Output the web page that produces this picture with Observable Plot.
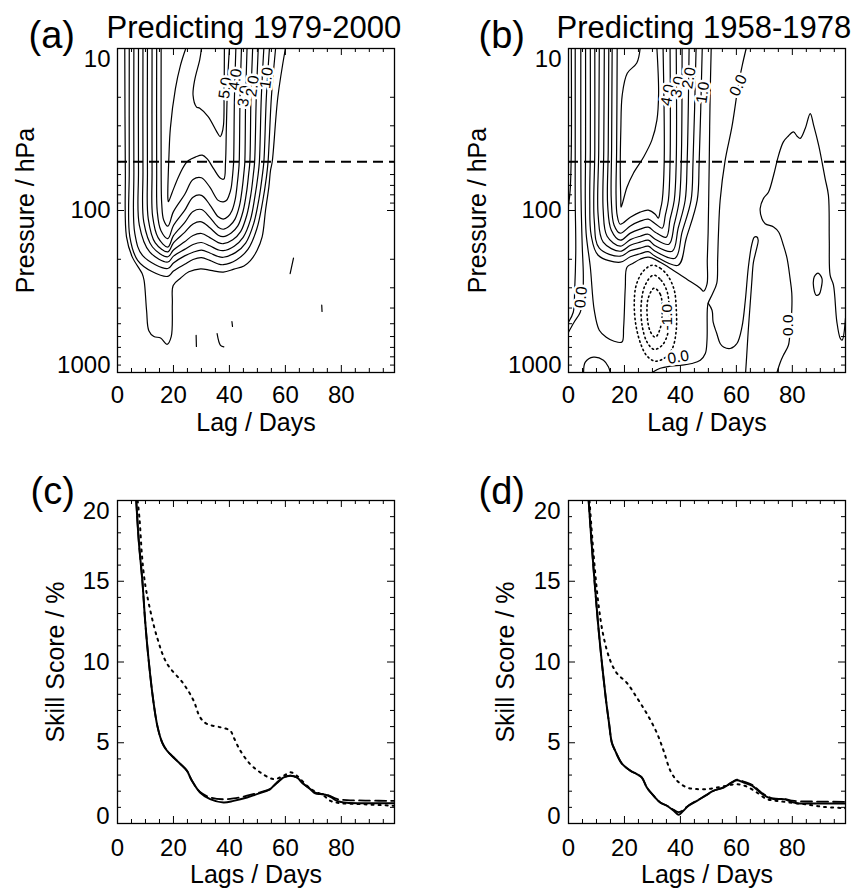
<!DOCTYPE html>
<html>
<head>
<meta charset="utf-8">
<script src="https://cdn.jsdelivr.net/npm/d3@7"></script>
<script src="https://cdn.jsdelivr.net/npm/@observablehq/plot@0.6"></script>
<style>
  body { margin: 0; background: #fff; }
  #fig { position: relative; width: 861px; height: 891px; overflow: hidden; background: #fff; }
  #fig svg { position: absolute; }
</style>
</head>
<body>
<div id="fig"></div>
<script>
// ---------- axis ticks ----------
const lagTicks = [0, 20, 40, 60, 80];
const lagMinorTicks = [5, 10, 15, 25, 30, 35, 45, 50, 55, 65, 70, 75, 85, 90, 95];
const pressureTicks = [10, 100, 1000];
const pressureMinorTicks = [20, 30, 40, 50, 60, 70, 80, 90, 200, 300, 400, 500, 600, 700, 800, 900];
const skillTicks = [0, 5, 10, 15, 20];
const skillMinorTicks = [1, 2, 3, 4, 6, 7, 8, 9, 11, 12, 13, 14, 16, 17, 18, 19];
const refPressure = [50];

// ---------- (a) contour lines, [lag (days), pressure (hPa)] ----------
const a50 = [[30,10],[29.4,11.7],[27.6,15.6],[27,19.4],[28.2,22.9],[29.4,23.4],[32.4,26.3],[35.5,32.7],[36.7,35],[37.3,33.5],[37.9,29.5],[38.1,20],[38.2,10]];
const a45 = [[24.4,10],[22.5,12.7],[20.7,17.7],[18.9,31],[18.4,45.5],[18,84],[18.2,88.3],[19.5,77.6],[21.9,61.4],[24.3,51.4],[25.5,49],[27.8,46.8],[30.3,45.5],[32,47.9],[34.4,55.4],[36.8,63.3],[38,64],[38.6,50.5],[38.9,31.2],[39.4,15.3],[40,10]];
const a40 = [[15.6,10],[15.6,56],[15.8,90.6],[16.5,114.5],[18,125],[20,101.6],[24,79.7],[27,64.4],[30,62.8],[33,71.8],[36,86.6],[37.8,88.4],[38.9,86.8],[39.8,81.2],[40.6,72.8],[41.06,62.6],[41.35,54.8],[41.5,50.3],[41.8,20],[42.3,10]];
const a35 = [[14,10],[14,56],[14.2,101],[15.5,133],[18,149],[20,123.8],[24,99.9],[27,82.8],[30,80.6],[33,92.2],[36,109.4],[37.8,113],[39.5,109],[40.9,100.3],[42.1,84.8],[42.8,68.6],[43.3,56.5],[43.5,50.3],[43.8,20],[44.3,10]];
const a30 = [[12.35,10],[12.35,56],[12.55,108.4],[14.5,147],[18,168],[20,143],[24,118.8],[27,101.4],[30,98.6],[33,110.3],[36,126.8],[37.8,130.5],[40.1,124.3],[42,113],[43.6,93.4],[44.6,72.5],[45.2,58],[45.5,50.3],[45.8,20],[46.3,10]];
const a25 = [[10.7,10],[10.7,56],[11,113],[13.5,158.5],[18,180],[20,158.4],[24,136.5],[27,121],[30,117.4],[33,127.9],[36,142],[37.8,145],[40.65,137.5],[43,124.5],[44.9,100.7],[46.2,75.3],[46.9,59],[47.3,50.3],[47.7,20],[48.3,10]];
const a20 = [[9.1,10],[9.1,56],[9.4,118],[12.5,168],[18,193],[20,175.3],[24,156],[27,142.7],[30,138.7],[33,147],[36,158],[37.8,160.3],[41.2,151.5],[44,135],[46.2,107],[47.7,78.8],[48.55,59.9],[49,50.3],[49.6,20],[50.3,10]];
const a15 = [[7.5,10],[7.5,56],[7.8,123],[11.5,180],[18,208],[20,191.3],[24,173.8],[27,162.2],[30,157.6],[33,165.2],[36,175],[37.8,177],[41.7,166],[44.9,146.5],[47.5,114.3],[49.15,81.3],[50.2,61],[50.7,50.3],[51.4,20],[52.3,10]];
const a10 = [[5.85,10],[5.85,56],[6.2,139],[9,190],[18,228],[20,211],[24,190.6],[27,181],[30,175.8],[33,183],[36,192.4],[37.8,194.3],[42.15,182],[45.8,158.8],[48.7,120],[50.6,84],[51.7,61.8],[52.3,50.3],[53.2,20],[54.3,10]];
const a05 = [[4.2,10],[4.2,56],[4.4,145],[7.2,203],[12.5,239],[18,255],[20,236.6],[24,214.8],[27,200.7],[30,195.3],[33,203.3],[36,213.9],[37.8,216],[42.6,201.2],[46.6,173.8],[49.8,129.7],[51.9,87.7],[53.2,62.7],[53.8,50.3],[55,20],[56.5,10]];
const a00 = [[2.6,10],[2.8,56.4],[3.2,145],[5.3,194],[8.8,245],[9.5,270],[10.4,416],[11.2,552],[13,600],[15.4,612],[17.7,670],[19.2,600],[19.6,375],[19.9,290],[22.5,262],[25.5,239],[29.7,229],[33.3,234],[37.8,240],[41.6,230],[45.2,220],[47.5,204],[49.9,176],[51.7,145.5],[52.9,100],[54.1,71.5],[54.7,56.4],[55.3,50],[57.3,20],[60,10]];
const aBit1 = [[61.7,245],[62.9,197]];
const aBit2 = [[73,384],[73.1,420]];
const aBit3 = [[40.9,485],[41.1,520]];
const aBit4 = [[28.1,590],[28.2,690]];
const aBit5 = [[35.6,575],[36.8,679],[38,695]];
const aLabels = [
  {text: "5.0", lag: 38.5, p: 17.5},
  {text: "4.0", lag: 42.1, p: 15.5},
  {text: "3.0", lag: 45.3, p: 19.7},
  {text: "2.0", lag: 48.3, p: 17.1},
  {text: "1.0", lag: 53.3, p: 15.2}
];
const aLabelAngles = [-82, -82, -82, -82, -82];

// ---------- (b) contour lines ----------
const bInner = [[25.6,10],[24.4,12.3],[21,14.2],[19.2,19.4],[18.7,31.9],[18.5,56.4],[18.7,86.4],[18.8,95.4],[20.9,71.8],[23.2,58.9],[26.8,46.9],[29.8,36.8],[31.6,27.7],[32.2,18.9],[31.6,10]];
const bU1 = [[17.4,10],[17.2,42.4],[17,80.6],[17.4,107.2],[18.5,121.5],[22.1,110],[25.6,102.4],[28.5,99.6],[31,105.4],[32.1,111.5],[32.8,99.6],[33.5,86.4],[34.2,50.3],[33.8,10]];
const bU2 = [[15.6,10],[15.4,42.4],[15.3,86.4],[16.3,123.3],[18.5,138.1],[22.1,124.5],[25.6,116.4],[28.5,113.1],[31,120.6],[33.5,128.6],[34.6,107.2],[35.7,86.4],[36.3,50.3],[36.3,10]];
const bU3 = [[14.4,10],[14.2,42.4],[14,93],[15.3,132.3],[18.5,152.5],[22.1,137.9],[25.6,130.4],[28.5,126.8],[31,136.1],[34.9,146.2],[36.3,113.1],[37.8,86.4],[38.5,50.3],[38.5,10]];
const bU4 = [[12.8,10],[12.6,42.4],[12.4,99.6],[13.8,144.1],[18.5,166.1],[22.1,151.3],[25.6,144.1],[28.5,140.1],[31,150.4],[35.9,161.5],[37.8,121.5],[39.6,86.4],[40.3,50.3],[40.6,10]];
const bU5 = [[11,10],[10.8,42.4],[10.6,107.2],[12.4,156.9],[18.5,178.4],[22.1,163.8],[25.6,156.9],[28.5,152.5],[31,165],[37.1,178.4],[39.2,128.6],[41.7,86.4],[42.4,50.3],[43.1,10]];
const bU6 = [[9.4,10],[9.4,42.4],[9.2,114.8],[11,170.9],[18.5,191.5],[22.1,177],[25.6,170.9],[28.5,166.1],[31,178.4],[38.1,197],[40.6,136.1],[43.8,86.4],[44.5,50.3],[45.6,10]];
const bU7 = [[7.8,10],[7.8,42.4],[7.6,86.4],[8.1,142.1],[10.6,188.8],[18.5,208.5],[22.1,193],[25.6,185],[28.5,179.6],[31,191.5],[39.2,217.6],[42.1,148.3],[46,86.4],[46.7,50.3],[47.8,10]];
const bU8 = [[6.1,10],[6.1,42.4],[6,86.4],[6.3,138.1],[7.8,223.9],[9.2,412.6],[11,548.2],[13.5,605.6],[16.3,641],[19.1,648],[19.7,527],[20.3,297.5],[20.9,223.9],[23.1,211.5],[25.6,199.8],[28.5,194.2],[32.8,208.5],[37.4,233.6],[42.3,265.5],[47.1,301.8],[48.2,315],[49.5,285],[49.6,202.7],[49.9,138.1],[50.1,86.4],[50.3,50.3],[50.6,20.8],[51,10]];
const bEdge1 = [[1,10],[1,42.4],[0.6,74.9],[0,93]];
const bEdge2 = [[2.4,10],[2.4,42.4],[2.4,86.4],[2.6,175.8],[2.2,310.5],[1.7,424.6],[0,489.3]];
const bEdge3 = [[4.4,10],[4.4,42.4],[4.5,86.4],[4.9,163.8],[5.3,250.8],[5.1,342.9],[4.2,424.6],[2,489.3],[0,564]];
const bZero = [[63.5,10],[62.1,12.7],[60.8,16.4],[58.4,30.5],[56,48.9],[54.2,86.4],[53.6,138.1],[53.3,202.7],[53,281],[51.4,328.7],[49.9,373.5],[49.6,412.6],[49.5,631.8],[48.9,763.3],[47.1,839.6],[44.1,880],[40.6,901.6],[36.3,914.5],[32.8,941],[29.9,1000]];
const bThin = [[49.9,373.5],[51.3,412.6],[51.7,489.3],[53,574.6],[54.2,662.3],[55.4,695.3],[57.8,711.3],[60.2,662.3],[62,523],[63.2,357.9],[64.3,222.3],[65.5,162.6],[66.4,146.2],[67.3,145.5],[67.8,152.5],[67.1,175.8],[66.1,208.5],[65.5,277],[64.9,384.3],[64.2,564],[63.7,782],[63.3,1000]];
const bRight = [[74.5,1000],[75.7,863.7],[76.8,782],[78.6,678.6],[79.2,548.2],[79.8,412.6],[79.8,323],[79.2,263.6],[78.1,196.8],[76.8,163.8],[75.1,135.8],[73.3,126.4],[70.3,120.6],[69.1,111.9],[68.5,97.2],[69.7,84.2],[71.5,76.8],[73.3,60.6],[75.1,45.5],[76.8,37.7],[78.5,34.8],[80.4,32.7],[81.7,34.8],[82.8,35.9],[84.6,31.2],[86.4,25.2],[87.6,29.7],[89.4,39.5],[90.6,50.1],[91.7,63.4],[92.9,80.6],[93.2,152.5],[93.5,250.8],[94.7,289],[95.9,485],[97.1,614.3],[97.8,631.8],[99,462]];
const bFoot = [[5.4,1000],[6,863.7],[8.9,804.5],[12.5,839.6],[14.3,923.6],[14.9,1000]];
const bLoop = [[88.2,250.8],[89.2,243.8],[90.6,263.6],[90.3,301.8],[89.6,328.7],[88.5,333.4],[87.6,297.5],[87.6,265.5]];
const bNeg1 = [[29.9,217.6],[32.8,227.1],[35.6,254.4],[37.8,310.5],[38.5,401],[38.5,548],[37.1,711],[34.2,816],[31,851.5],[28.1,793],[26,678.6],[24.2,523],[23.5,384.3],[24.2,289],[26.7,237]];
const bNeg2 = [[30.3,250.8],[33.1,269.3],[35.3,319],[36,412.6],[35.6,564],[33.5,678.6],[30.6,720],[28.1,650.2],[26.3,510.5],[26,373.5],[27.4,289]];
const bNeg3 = [[30.6,301.8],[32.8,328.7],[33.5,412.6],[32.8,532.8],[31,605.6],[29.2,556],[28.1,443.1],[28.5,347.8]];
const bLabels = [
  {text: "4.0", lag: 35.5, p: 19.4},
  {text: "3.0", lag: 39, p: 17.3},
  {text: "2.0", lag: 43.1, p: 15.2},
  {text: "1.0", lag: 48, p: 18.7},
  {text: "0.0", lag: 60.7, p: 16.9},
  {text: "0.0", lag: 4.5, p: 343},
  {text: "-1.0", lag: 35.2, p: 456},
  {text: "0.0", lag: 39.2, p: 805},
  {text: "0.0", lag: 78.6, p: 511}
];
const bLabelAngles = [-80, -80, -80, -82, -65, -85, -90, -10, -90];

// ---------- (c) and (d) skill scores, [lag (days), skill (%)] ----------
const cSolid = [[6.7,20],[7.6,17.5],[8.9,15],[9.9,12.5],[11.2,10],[12.8,7.6],[14.3,6],[16,5],[17.5,4.55],[18.8,4.3],[22.4,3.7],[24.8,3.27],[26.6,2.65],[29.5,1.92],[33.1,1.51],[37.9,1.3],[41.5,1.4],[46.3,1.61],[49.8,1.82],[53.4,2.03],[54.6,2.13],[57,2.54],[59.4,2.85],[61.8,2.96],[64.1,2.85],[66.5,2.44],[68.9,2.13],[70.7,1.86],[72.5,1.82],[74.3,1.78],[76.1,1.65],[78.4,1.4],[82,1.28],[89.2,1.26],[98.9,1.26]];
const cDashed = [[6.7,20],[7.6,17.5],[8.9,15],[9.9,12.5],[11.2,10],[12.8,7.6],[14.3,6],[16,5],[17.5,4.55],[18.8,4.3],[22.4,3.7],[24.8,3.27],[26.6,2.65],[29.5,1.95],[33.1,1.62],[37.9,1.5],[41.5,1.55],[46.3,1.72],[49.8,1.88],[53.4,2.05],[54.6,2.15],[57,2.5],[59.4,2.85],[61.8,2.96],[64.1,2.85],[66.5,2.45],[68.9,2.15],[70.7,1.92],[72.5,1.85],[74.3,1.8],[76.1,1.7],[78.4,1.52],[82,1.45],[89.2,1.42],[98.9,1.4]];
const cDotted = [[7.2,20],[7.9,18.8],[8.7,16.7],[9.5,15.3],[10.5,14.2],[14.1,11.55],[17.7,9.9],[23.6,8.65],[27.2,7.61],[29.5,6.58],[31.9,6.17],[36.7,5.96],[40.3,5.75],[41.5,5.34],[43.9,4.51],[47.4,3.68],[51,3.17],[55.8,2.75],[59.4,2.96],[61.8,3.17],[64.1,2.96],[67.7,2.34],[70.1,2.03],[73.7,1.72],[76.1,1.4],[79.6,1.26],[86.8,1.2],[98.9,1.1]];
const dSolid = [[7.2,20],[8.2,17.5],[9.3,15],[10.5,12.5],[11.9,10],[13.3,7.8],[14.5,6.2],[15.5,5],[16.7,4.5],[19.1,3.7],[22.1,3.27],[24.4,3.06],[26.2,2.85],[28,2.23],[30.4,1.72],[32.8,1.3],[35.2,1.1],[37.6,0.79],[39.4,0.54],[40.5,0.69],[42.9,1.1],[45.9,1.4],[48.9,1.72],[51.9,2.03],[55.4,2.23],[58.4,2.54],[60.2,2.68],[62.6,2.54],[65.6,2.34],[68.5,1.92],[70.9,1.65],[73.3,1.51],[76.9,1.51],[79.8,1.34],[81.6,1.26],[87.6,1.24],[98.9,1.24]];
const dDashed = [[7.2,20],[8.2,17.5],[9.3,15],[10.5,12.5],[11.9,10],[13.3,7.8],[14.5,6.2],[15.5,5],[16.7,4.5],[19.1,3.7],[22.1,3.27],[24.4,3.06],[26.2,2.85],[28,2.23],[30.4,1.72],[32.8,1.3],[35.2,1.1],[37.6,0.85],[39.4,0.7],[40.5,0.78],[42.9,1.12],[45.9,1.42],[48.9,1.72],[51.9,2.03],[55.4,2.23],[58.4,2.55],[60.2,2.72],[62.6,2.6],[65.6,2.4],[68.5,1.98],[70.9,1.7],[73.3,1.55],[76.9,1.52],[79.8,1.42],[81.6,1.38],[87.6,1.36],[98.9,1.34]];
const dDotted = [[7.5,20],[8.95,16.7],[10.7,13.6],[12.5,11.6],[14.9,10.1],[17.3,9.3],[20.9,8.7],[24.4,7.8],[28,6.8],[31.6,5.6],[34,4.5],[36.4,3.27],[38.8,2.65],[42.3,2.23],[45.9,2.13],[49.5,2.13],[53.1,2.23],[56.6,2.34],[60.2,2.44],[63.8,2.28],[67.3,1.92],[70.9,1.51],[74.5,1.4],[79.2,1.3],[84,1.2],[91.2,1.03],[98.9,0.95]];

// ---------- drawing ----------
const FONT = '"Liberation Sans", Arial, Helvetica, sans-serif';
const fig = document.getElementById("fig");

const rowsOf = (lines) => lines.flatMap(([id, pts]) => pts.map(([lag, p]) => ({id, lag, p})));

function frameAxes(W, H, yMajor, yMinor) {
  const s = {stroke: "black", strokeWidth: 1};
  return [
    Plot.tickX(lagTicks, {...s, x: d => d, insetTop: H - 7}),
    Plot.tickX(lagTicks, {...s, x: d => d, insetBottom: H - 7}),
    Plot.tickX(lagMinorTicks, {...s, x: d => d, insetTop: H - 4}),
    Plot.tickX(lagMinorTicks, {...s, x: d => d, insetBottom: H - 4}),
    Plot.tickY(yMajor, {...s, y: d => d, insetRight: W - 7}),
    Plot.tickY(yMajor, {...s, y: d => d, insetLeft: W - 7}),
    Plot.tickY(yMinor, {...s, y: d => d, insetRight: W - 4}),
    Plot.tickY(yMinor, {...s, y: d => d, insetLeft: W - 4}),
    Plot.frame({stroke: "black", strokeWidth: 1.3})
  ];
}

function tickText(yValues, topVal, bottomVal, yDx, xDy) {
  const base = {y: d => d, text: d => String(d), frameAnchor: "left", dx: yDx, textAnchor: "end", fontSize: 24, fill: "black"};
  return [
    Plot.text(yValues.filter(v => v !== topVal && v !== bottomVal), base),
    Plot.text([topVal], {...base, lineAnchor: "top", dy: 1.5}),
    Plot.text([bottomVal], {...base, lineAnchor: "bottom", dy: 0}),
    Plot.text(lagTicks, {x: d => d, text: d => String(d), frameAnchor: "bottom", textAnchor: "middle", lineAnchor: "bottom", dy: xDy, fontSize: 24, fill: "black"})
  ];
}

function titles({letter, title, letterDx, letterDy, titleDx, xTitle, xTitleDy, yTitle, yTitleDx}) {
  const t = {text: d => d, fill: "black", lineAnchor: "bottom"};
  const out = [
    Plot.text([letter], {...t, frameAnchor: "top-left", textAnchor: "start", dx: letterDx, dy: letterDy, fontSize: 38}),
    Plot.text([xTitle], {...t, frameAnchor: "bottom", textAnchor: "middle", dy: xTitleDy, fontSize: 25}),
    Plot.text([yTitle], {...t, frameAnchor: "left", textAnchor: "middle", rotate: -90, dx: yTitleDx, fontSize: 25})
  ];
  if (title) out.push(Plot.text([title], {...t, frameAnchor: "top-left", textAnchor: "start", dx: titleDx, dy: -11, fontSize: 31}));
  return out;
}

function contourPanel(o) {
  const width = o.width, height = 445, mt = 48, mb = 73;
  const W = width - o.ml - o.mr, H = height - mt - mb;
  const lineStyle = {x: "lag", y: "p", z: "id", stroke: "black", strokeWidth: 1.2, clip: true};
  return Plot.plot({
    width, height, marginLeft: o.ml, marginRight: o.mr, marginTop: mt, marginBottom: mb,
    x: {domain: [0, 99], axis: null},
    y: {type: "log", domain: [10, 1000], reverse: true, axis: null},
    style: {fontFamily: FONT, background: "transparent", overflow: "visible"},
    marks: [
      Plot.line(rowsOf(o.lines), {...lineStyle, curve: "catmull-rom"}),
      Plot.line(rowsOf(o.loops), {...lineStyle, curve: "catmull-rom-closed"}),
      Plot.line(rowsOf(o.dotted), {...lineStyle, curve: "catmull-rom-closed", strokeWidth: 1.6, strokeDasharray: "1.4,3.2"}),
      Plot.ruleY(refPressure, {y: d => d, stroke: "black", strokeWidth: 2, strokeDasharray: "10,6"}),
      Plot.text(o.labels, {x: "lag", y: "p", text: "text", rotate: (d, i) => o.angles[i], fontSize: 15.5, fill: "black", stroke: "white", strokeWidth: 5, paintOrder: "stroke"}),
      ...frameAxes(W, H, pressureTicks, pressureMinorTicks),
      ...tickText(pressureTicks, 10, 1000, -7, 30),
      ...titles({letter: o.letter, title: o.title, letterDx: o.letterDx, letterDy: -1, titleDx: o.titleDx,
                 xTitle: "Lag / Days", xTitleDy: 58, yTitle: "Pressure / hPa", yTitleDx: o.yTitleDx})
    ]
  });
}

function skillPanel(o) {
  const width = o.width, height = 446, mt = 55, mb = 68;
  const W = width - o.ml - o.mr, H = height - mt - mb;
  const s = {x: d => d[0], y: d => d[1], stroke: "black", curve: "catmull-rom", clip: true};
  return Plot.plot({
    width, height, marginLeft: o.ml, marginRight: o.mr, marginTop: mt, marginBottom: mb,
    x: {domain: [0, 99], axis: null},
    y: {domain: [0, 20], axis: null},
    style: {fontFamily: FONT, background: "transparent", overflow: "visible"},
    marks: [
      Plot.line(o.dotted, {...s, strokeWidth: 2, strokeDasharray: "2,5"}),
      Plot.line(o.dashed, {...s, strokeWidth: 1.8, strokeDasharray: "11,5"}),
      Plot.line(o.solid, {...s, strokeWidth: 2}),
      ...frameAxes(W, H, skillTicks, skillMinorTicks),
      ...tickText(skillTicks, 20, 0, -8, 32),
      ...titles({letter: o.letter, letterDx: o.letterDx, letterDy: 3,
                 xTitle: "Lags / Days", xTitleDy: 59, yTitle: "Skill Score / %", yTitleDx: o.yTitleDx})
    ]
  });
}

function place(svg, left, top) {
  svg.style.left = left + "px";
  svg.style.top = top + "px";
  fig.append(svg);
}

place(contourPanel({
  width: 430, ml: 117, mr: 36, letter: "(a)", letterDx: -89, title: "Predicting 1979-2000", titleDx: -11, yTitleDx: -84,
  lines: [["a50", a50], ["a45", a45], ["a40", a40], ["a35", a35], ["a30", a30], ["a25", a25], ["a20", a20], ["a15", a15], ["a10", a10], ["a05", a05], ["a00", a00],
          ["b1", aBit1], ["b2", aBit2], ["b3", aBit3], ["b4", aBit4], ["b5", aBit5]],
  loops: [], dotted: [], labels: aLabels, angles: aLabelAngles
}), 0, 0);

place(contourPanel({
  width: 431, ml: 138, mr: 16, letter: "(b)", letterDx: -90, title: "Predicting 1958-1978", titleDx: -12, yTitleDx: -83,
  lines: [["i", bInner], ["u1", bU1], ["u2", bU2], ["u3", bU3], ["u4", bU4], ["u5", bU5], ["u6", bU6], ["u7", bU7], ["u8", bU8],
          ["e1", bEdge1], ["e2", bEdge2], ["e3", bEdge3], ["z", bZero], ["t", bThin], ["r", bRight], ["f", bFoot]],
  loops: [["l", bLoop]],
  dotted: [["n1", bNeg1], ["n2", bNeg2], ["n3", bNeg3]],
  labels: bLabels, angles: bLabelAngles
}), 430, 0);

place(skillPanel({width: 430, ml: 117, mr: 36, letter: "(c)", letterDx: -87, yTitleDx: -54,
  solid: cSolid, dashed: cDashed, dotted: cDotted}), 0, 445);
place(skillPanel({width: 431, ml: 138, mr: 16, letter: "(d)", letterDx: -90, yTitleDx: -55,
  solid: dSolid, dashed: dDashed, dotted: dDotted}), 430, 445);
</script>
</body>
</html>
